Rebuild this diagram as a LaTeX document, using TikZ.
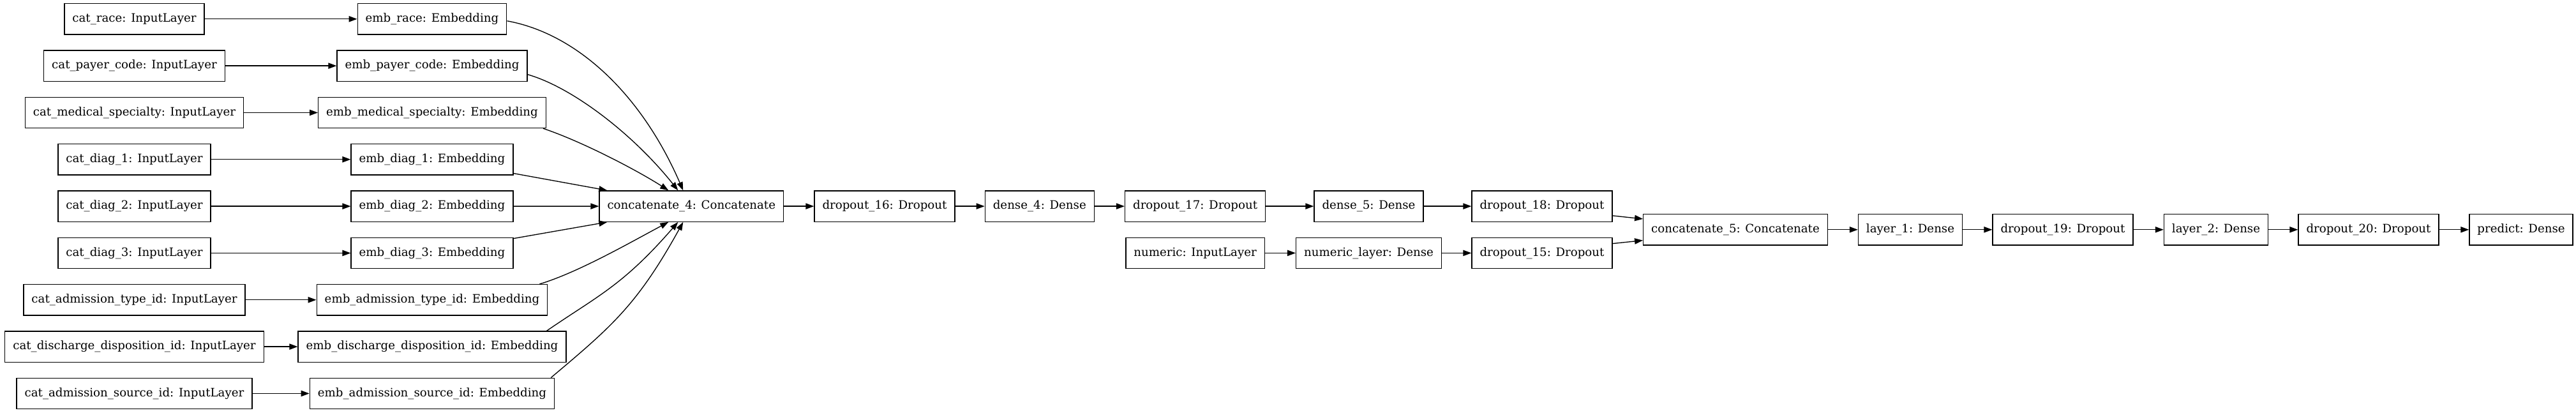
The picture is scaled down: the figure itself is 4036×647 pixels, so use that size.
\documentclass[tikz,border=0pt]{standalone}
\usepackage{fontspec}
\setmainfont{DejaVu Serif}
\usetikzlibrary{arrows.meta}

\begin{document}
\begin{tikzpicture}[
        x=1pt, y=1pt,
        % --- STYLE CHUNG ---
        layer_node/.style={
            rectangle,
            draw=black,
            line width=1.33pt,
            minimum height=48.3pt,
            inner xsep=12.5pt,
            inner ysep=0pt,
            font=\fontsize{18.2}{22}\selectfont
        },
        % Style mui ten
        flow_edge/.style={
            draw=black,
            line width=1.33pt,
            -{Triangle[length=13pt, width=9.3pt]}
        }
    ]
    \useasboundingbox (0,0) rectangle (4036,647);

    % --- INPUT -> EMBEDDING ---
    \foreach \nm/\lbl/\k in {race/race/0, payer_code/payer\_code/1,
            medical_specialty/medical\_specialty/2, diag_1/diag\_1/3,
            diag_2/diag\_2/4, diag_3/diag\_3/5,
            admission_type_id/admission\_type\_id/6,
            discharge_disposition_id/discharge\_disposition\_id/7,
            admission_source_id/admission\_source\_id/8} {
        \node[layer_node] (cat_\nm) at (210.5, {617.2-73.33*\k}) {cat\_\lbl: InputLayer};
        \node[layer_node] (emb_\nm) at (677, {617.2-73.33*\k}) {emb\_\lbl: Embedding};
        \draw[flow_edge] (cat_\nm) -- (emb_\nm);
    }

    % --- NHANH CHINH ---
    \node[layer_node] (concatenate_4) at (1083.3, 323.9) {concatenate\_4: Concatenate};
    \node[layer_node] (dropout_16) at (1386, 323.9) {dropout\_16: Dropout};
    \node[layer_node] (dense_4) at (1628.8, 323.9) {dense\_4: Dense};
    \node[layer_node] (dropout_17) at (1872.6, 323.9) {dropout\_17: Dropout};
    \node[layer_node] (dense_5) at (2144.5, 323.9) {dense\_5: Dense};
    \node[layer_node] (dropout_18) at (2416, 323.9) {dropout\_18: Dropout};

    % --- NHANH SO ---
    \node[layer_node] (numeric) at (1872.6, 250.6) {numeric: InputLayer};
    \node[layer_node] (numeric_layer) at (2144.5, 250.6) {numeric\_layer: Dense};
    \node[layer_node] (dropout_15) at (2416, 250.6) {dropout\_15: Dropout};

    % --- DAU RA ---
    \node[layer_node] (concatenate_5) at (2719, 287.2) {concatenate\_5: Concatenate};
    \node[layer_node] (layer_1) at (2993, 287.2) {layer\_1: Dense};
    \node[layer_node] (dropout_19) at (3232, 287.2) {dropout\_19: Dropout};
    \node[layer_node] (layer_2) at (3472, 287.2) {layer\_2: Dense};
    \node[layer_node] (dropout_20) at (3711, 287.2) {dropout\_20: Dropout};
    \node[layer_node] (predict) at (3950, 287.2) {predict: Dense};

    % --- EMBEDDING -> CONCATENATE ---
    \draw[flow_edge] ([yshift=-3pt]emb_race.east) .. controls +(110,-20) and +(-65,150) .. ([xshift=-13pt]concatenate_4.north);
    \draw[flow_edge] ([yshift=-13.6pt]emb_payer_code.east) .. controls +(70,-20) and +(-70,88) .. ([xshift=-21pt]concatenate_4.north);
    \draw[flow_edge] ([xshift=-5pt]emb_medical_specialty.south east) .. controls +(60,-20) and +(-50,32) .. ([xshift=-36pt]concatenate_4.north);
    \draw[flow_edge] ([yshift=3pt]emb_diag_1.south east) -- ([xshift=13pt]concatenate_4.north west);
    \draw[flow_edge] (emb_diag_2) -- (concatenate_4);
    \draw[flow_edge] ([yshift=-2pt]emb_diag_3.north east) -- ([xshift=13pt]concatenate_4.south west);
    \draw[flow_edge] ([xshift=-13pt]emb_admission_type_id.north east) .. controls +(60,18) and +(-60,-32) .. ([xshift=-36pt]concatenate_4.south);
    \draw[flow_edge] ([xshift=-31pt]emb_discharge_disposition_id.north east) .. controls +(80,55) and +(-87,-100) .. ([xshift=-21pt]concatenate_4.south);
    \draw[flow_edge] ([xshift=-6pt]emb_admission_source_id.north east) .. controls +(95,80) and +(-72,-130) .. ([xshift=-13pt]concatenate_4.south);

    % --- CHUOI LOP ---
    \foreach \a/\b in {concatenate_4/dropout_16, dropout_16/dense_4, dense_4/dropout_17,
            dropout_17/dense_5, dense_5/dropout_18, numeric/numeric_layer,
            numeric_layer/dropout_15, concatenate_5/layer_1, layer_1/dropout_19,
            dropout_19/layer_2, layer_2/dropout_20, dropout_20/predict} {
        \draw[flow_edge] (\a) -- (\b);
    }
    \draw[flow_edge] ([yshift=10pt]dropout_18.south east) -- ([yshift=-8pt]concatenate_5.north west);
    \draw[flow_edge] ([yshift=-10pt]dropout_15.north east) -- ([yshift=8pt]concatenate_5.south west);

\end{tikzpicture}
\end{document}
